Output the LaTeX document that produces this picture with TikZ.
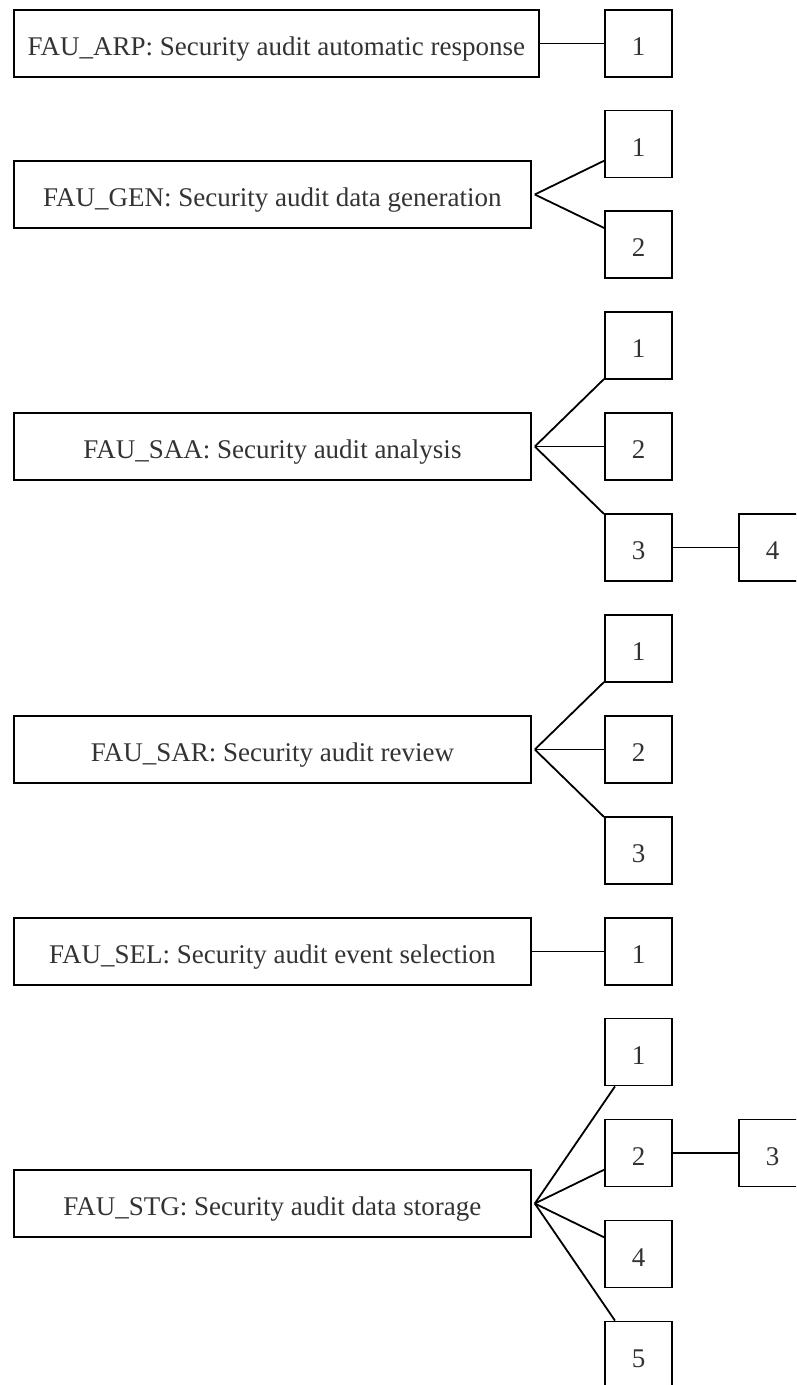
\documentclass[tikz,border=0pt]{standalone}
\usepackage{fontspec}
\setmainfont{Liberation Serif}
\usetikzlibrary{calc}
\begin{document}
\begin{tikzpicture}[x=1pt,y=-1pt,
  bigbox/.style={draw, line width=1.8pt, minimum height=67pt, inner sep=0pt, anchor=west,
    text height=30pt, text depth=6pt,
    font=\fontsize{27}{32}\selectfont, text=black!80},
  numbox/.style={draw, line width=1.8pt, minimum width=67pt, minimum height=67pt, inner sep=0pt,
    text height=30pt, text depth=6pt,
    font=\fontsize{27}{32}\selectfont, text=black!80},
  link/.style={line width=1.8pt}]
\useasboundingbox (0,0) rectangle (796,1385);
\clip (0,0) rectangle (796,1385);
% FAU_ARP
\node[bigbox, minimum width=525pt] (arp) at (13,43.5) {FAU\_ARP: Security audit automatic response};
\node[numbox] (arp1) at (638.5,43.5) {1};
\draw[link] (arp.east) -- (arp1.west);
% FAU_GEN
\node[bigbox, minimum width=517pt] (gen) at (13,194.5) {FAU\_GEN: Security audit data generation};
\coordinate (genA) at ($(gen.east)+(3,0)$);
\node[numbox] (gen1) at (638.5,144) {1};
\node[numbox] (gen2) at (638.5,244.5) {2};
\draw[link] (genA) -- (gen1);
\draw[link] (genA) -- (gen2);
% FAU_SAA
\node[bigbox, minimum width=517pt] (saa) at (13,446.5) {FAU\_SAA: Security audit analysis};
\coordinate (saaA) at ($(saa.east)+(3,0)$);
\node[numbox] (saa1) at (638.5,345.5) {1};
\node[numbox] (saa2) at (638.5,446.5) {2};
\node[numbox] (saa3) at (638.5,547.5) {3};
\node[numbox] (saa4) at (772.5,547.5) {4};
\draw[link] (saaA) -- (saa1);
\draw[link] (saaA) -- (saa2);
\draw[link] (saaA) -- (saa3);
\draw[link] (saa3.east) -- (saa4.west);
% FAU_SAR
\node[bigbox, minimum width=517pt] (sar) at (13,749.5) {FAU\_SAR: Security audit review};
\coordinate (sarA) at ($(sar.east)+(3,0)$);
\node[numbox] (sar1) at (638.5,648.5) {1};
\node[numbox] (sar2) at (638.5,749.5) {2};
\node[numbox] (sar3) at (638.5,850.5) {3};
\draw[link] (sarA) -- (sar1);
\draw[link] (sarA) -- (sar2);
\draw[link] (sarA) -- (sar3);
% FAU_SEL
\node[bigbox, minimum width=517pt] (sel) at (13,951.5) {FAU\_SEL: Security audit event selection};
\node[numbox] (sel1) at (638.5,951.5) {1};
\draw[link] (sel.east) -- (sel1.west);
% FAU_STG
\node[bigbox, minimum width=517pt] (stg) at (13,1203.5) {FAU\_STG: Security audit data storage};
\coordinate (stgA) at ($(stg.east)+(3,0)$);
\node[numbox] (stg1) at (638.5,1052) {1};
\node[numbox] (stg2) at (638.5,1153) {2};
\node[numbox] (stg4) at (638.5,1254) {4};
\node[numbox] (stg5) at (638.5,1355) {5};
\node[numbox] (stg3) at (772.5,1153) {3};
\draw[link] (stgA) -- (stg1);
\draw[link] (stgA) -- (stg2);
\draw[link] (stgA) -- (stg4);
\draw[link] (stgA) -- (stg5);
\draw[link] (stg2.east) -- (stg3.west);
\end{tikzpicture}
\end{document}
